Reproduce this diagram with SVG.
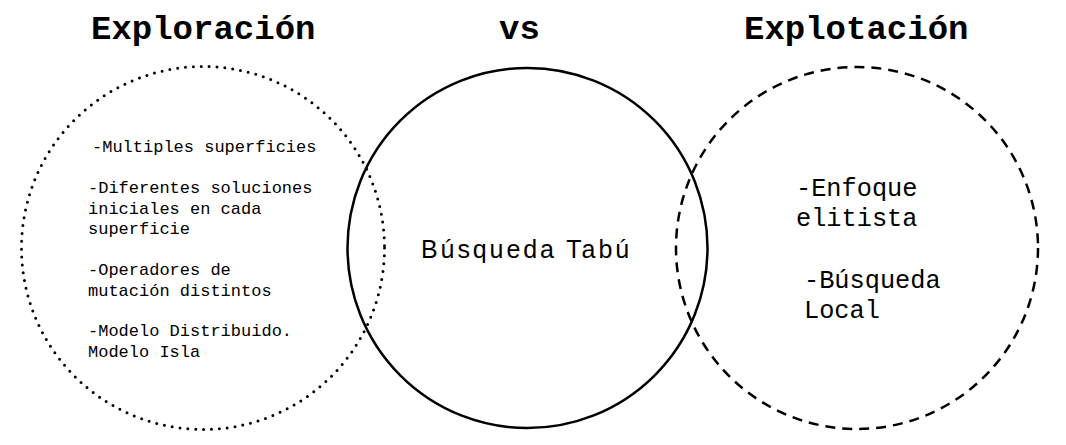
<svg xmlns="http://www.w3.org/2000/svg" width="1066" height="445" viewBox="0 0 1066 445">
<style>
.title{font-family:"Liberation Mono","DejaVu Sans Mono",monospace;font-weight:bold;font-size:34px;fill:#000}
.small{font-family:"Liberation Mono","DejaVu Sans Mono",monospace;font-size:17px;fill:#000}
.mid{font-family:"Liberation Sans",Arial,sans-serif;font-size:25px;letter-spacing:2.9px;fill:#000}
.big{font-family:"Liberation Mono","DejaVu Sans Mono",monospace;font-size:25.3px;fill:#000}
.c{fill:none;stroke:#000}
</style>
<rect width="1066" height="445" fill="#fff"/>
<g id="titles">
<text class="title" x="91" y="39">Exploración</text>
<text class="title" x="499" y="39">vs</text>
<text class="title" x="744" y="39">Explotación</text>
</g>
<g id="exploracion">
<circle class="c" cx="203" cy="248" r="181.5" stroke-width="3" stroke-dasharray="0 7.9" stroke-linecap="round"/>
<text class="small" x="92" y="152">-Multiples superficies</text>
<text class="small" x="88" y="193">-Diferentes soluciones</text>
<text class="small" x="88" y="213.5">iniciales en cada</text>
<text class="small" x="88" y="234">superficie</text>
<text class="small" x="88" y="275">-Operadores de</text>
<text class="small" x="88" y="295.5">mutación distintos</text>
<text class="small" x="88" y="336">-Modelo Distribuido.</text>
<text class="small" x="88" y="356.5">Modelo Isla</text>
</g>
<g id="busqueda-tabu">
<circle class="c" cx="527.5" cy="248" r="180" stroke-width="2.5"/>
<text class="mid" x="421" y="257.5">Búsqueda Tabú</text>
</g>
<g id="explotacion">
<circle class="c" cx="857" cy="248" r="181" stroke-width="2.5" stroke-dasharray="10 7"/>
<text class="big" x="796" y="196">-Enfoque</text>
<text class="big" x="796" y="226">elitista</text>
<text class="big" x="804" y="288">-Búsqueda</text>
<text class="big" x="804" y="318">Local</text>
</g>
<g id="connectors"/>
</svg>
